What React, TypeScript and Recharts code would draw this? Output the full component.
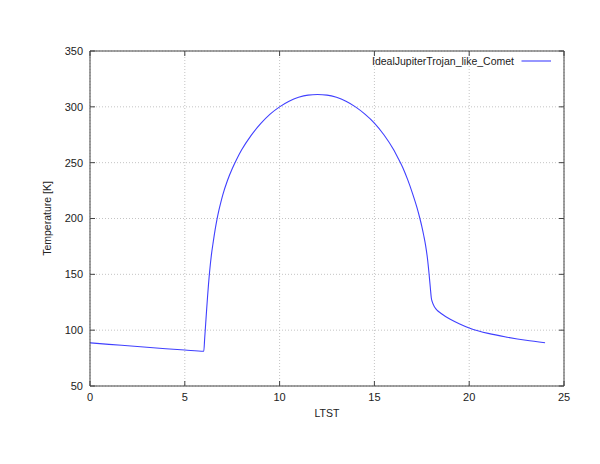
import React from "react";
import { LineChart, Line, XAxis, YAxis, CartesianGrid, Legend, Label } from "recharts";

// local true solar time [h]
const ltst = [
  0, 1, 2, 3, 4, 5, 6,
  6.05, 6.1, 6.15, 6.2, 6.25, 6.3, 6.35, 6.4, 6.5, 6.6, 6.7, 6.8, 6.9,
  7, 7.25, 7.5, 7.75, 8, 8.5, 9, 9.5, 10, 10.5, 11, 11.5,
  12, 12.5, 13, 13.5, 14, 14.5, 15, 15.5, 16, 16.25, 16.5, 16.75,
  17, 17.25, 17.4, 17.5, 17.6, 17.7, 17.8, 17.88, 17.95,
  18, 18.05, 18.1, 18.15, 18.2, 18.3, 18.4, 18.5, 18.75, 19, 19.5, 20, 20.5, 21, 22, 23, 24,
];

// surface temperature [K]
const temperature = [
  88.7, 87.3, 86.0, 84.7, 83.4, 82.2, 81.1,
  93, 105.5, 118, 130, 141, 151, 159.5, 167, 179, 190, 199.5, 207.5, 214.5,
  221, 234, 244.5, 253.5, 261.5, 274.5, 285, 293.5, 300, 305, 308.5, 310.5,
  311, 310.5, 308.5, 305, 300, 293.5, 285.5, 275, 262, 254, 245.5, 235,
  223, 209.5, 200, 193, 185, 176, 164, 151, 138,
  129, 125.5, 123.2, 121.5, 120.1, 118, 116.5, 115.2, 112.3, 109.8, 105.6, 102, 99.3, 97.1, 93.7, 90.9, 88.8,
];

const xTicks = [0, 5, 10, 15, 20, 25];
const yTicks = [50, 100, 150, 200, 250, 300, 350];
const seriesName = "IdealJupiterTrojan_like_Comet";

const data = ltst.map((t, i) => ({ ltst: t, temperature: temperature[i] }));

const font = '"Liberation Sans", Arial, Helvetica, sans-serif';
const tickStyle = { fontSize: 11, fill: "#222", fontFamily: font };
const blank = () => "";

function renderLegend(props: any) {
  const payload = props.payload || [];
  return (
    <div style={{ display: "flex", justifyContent: "flex-end", alignItems: "center", fontFamily: font, fontSize: 10.5, color: "#222", height: 14 }}>
      {payload.map((entry: any) => (
        <span key={entry.value} style={{ display: "flex", alignItems: "center" }}>
          <span>{entry.value}</span>
          <svg width={37} height={6} style={{ display: "block" }}>
            <line x1={7.5} x2={37} y1={3} y2={3} stroke={entry.color} strokeWidth={1.1} />
          </svg>
        </span>
      ))}
    </div>
  );
}

function XTitle(props: any) {
  const vb = props.viewBox;
  return (
    <text x={vb.x + vb.width / 2} y={vb.y + 26.5} textAnchor="middle" dominantBaseline="central" fontSize={10.5} fontFamily={font} fill="#222">
      LTST
    </text>
  );
}

function YTitle(props: any) {
  const vb = props.viewBox;
  const cx = vb.x + 7;
  const cy = vb.y + vb.height / 2;
  return (
    <text x={cx} y={cy} transform={`rotate(-90, ${cx}, ${cy})`} textAnchor="middle" dominantBaseline="central" fontSize={10.5} fontFamily={font} fill="#222">
      Temperature [K]
    </text>
  );
}

export default function App() {
  return (
    <div style={{ position: "absolute", left: 0, top: 0, width: 600, height: 464, background: "#fff" }}>
      <LineChart width={600} height={464} data={data} margin={{ top: 41, right: 26, bottom: 48, left: 40 }}>
        <CartesianGrid stroke="#c4c4c4" strokeDasharray="1 2" />
        <XAxis dataKey="ltst" type="number" domain={[0, 25]} ticks={xTicks} allowDataOverflow height={30}
          tickSize={-5} tickMargin={12} tick={tickStyle} stroke="#444">
          <Label content={<XTitle />} />
        </XAxis>
        <XAxis xAxisId="top" orientation="top" dataKey="ltst" type="number" domain={[0, 25]} ticks={xTicks} allowDataOverflow
          height={10} tickSize={-5} tickFormatter={blank} stroke="#444" />
        <YAxis type="number" domain={[50, 350]} ticks={yTicks} allowDataOverflow width={50}
          tickSize={-5} tickMargin={12} tick={tickStyle} stroke="#444">
          <Label content={<YTitle />} />
        </YAxis>
        <YAxis yAxisId="right" orientation="right" type="number" domain={[50, 350]} ticks={yTicks} allowDataOverflow
          width={10} tickSize={-5} tickFormatter={blank} stroke="#444" />
        <Legend layout="horizontal" verticalAlign="middle" align="center" content={renderLegend}
          wrapperStyle={{ top: 54, left: 0, width: 551, height: 14 }} />
        <Line type="monotone" dataKey="temperature" name={seriesName} stroke="#4040ff" strokeWidth={1.1}
          dot={false} activeDot={false} isAnimationActive={false} />
      </LineChart>
    </div>
  );
}
